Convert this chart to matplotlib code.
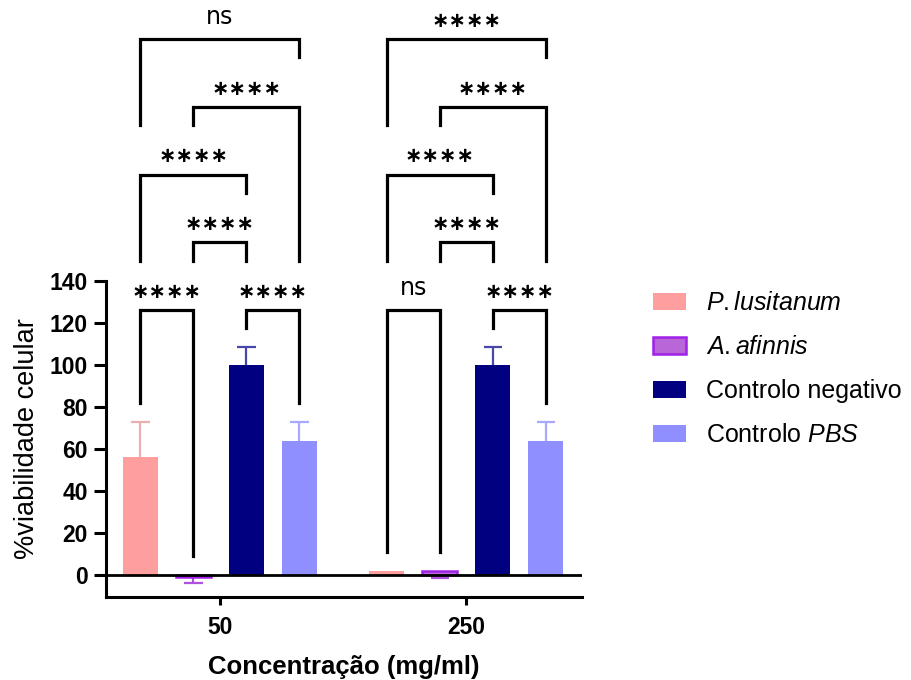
import matplotlib
matplotlib.use("Agg")
import matplotlib.pyplot as plt
import numpy as np

plt.rcParams["font.family"] = ["Liberation Sans", "DejaVu Sans"]
plt.rcParams["mathtext.fontset"] = "custom"
plt.rcParams["mathtext.rm"] = "Liberation Sans"
plt.rcParams["mathtext.it"] = "Liberation Sans:italic"

# ---- data -------------------------------------------------------------
concentrations = ["50", "250"]
series_labels = [r"$\mathit{P.lusitanum}$", r"$\mathit{A.afinnis}$",
                 "Controlo negativo", r"Controlo $\mathit{PBS}$"]
viability_50 = [56, -1.2, 100, 64]
viability_250 = [2, 2, 100, 64]
sem_50 = [17, 2.5, 8.5, 9]
sem_250 = [0, 3.3, 8.5, 9]
# error bars drawn away from zero: +1 up, -1 down
err_direction = [1, -1, 1, 1]

# pairwise comparisons per concentration: (bar a, bar b, label, level)
comparisons_50 = [(0, 1, "****", 1), (2, 3, "****", 1), (1, 2, "****", 2),
                  (0, 2, "****", 3), (1, 3, "****", 4), (0, 3, "ns", 5)]
comparisons_250 = [(0, 1, "ns", 1), (2, 3, "****", 1), (1, 2, "****", 2),
                   (0, 2, "****", 3), (1, 3, "****", 4), (0, 3, "****", 5)]

# ---- styling ----------------------------------------------------------
face_colors = ["#ff9e9e", "#b866d8", "#000080", "#8f8fff"]
edge_colors = ["#ff9e9e", "#a020e8", "#000080", "#8f8fff"]
edge_widths = [0, 1.8, 0, 0]
err_colors = ["#e8b0b0", "#b050e0", "#4848a8", "#a8a8ff"]

values = np.array([viability_50, viability_250])
errors = np.array([sem_50, sem_250])
comparisons = [comparisons_50, comparisons_250]

fig = plt.figure(figsize=(9.12, 6.8), dpi=100)
ax = fig.add_axes([0.1162, 0.1221, 0.5219, 0.4647])

group_x = np.arange(len(concentrations))
step = 0.215
width = 0.142
cap_half = 0.037
offsets = (np.arange(4) - 1.5) * step

handles = []
for s in range(4):
    xs = group_x + offsets[s]
    ys = values[:, s]
    e = errors[:, s]
    ends = ys + err_direction[s] * e
    # one-sided error bars (stem + cap) drawn beneath the bars
    show = e > 0
    ax.vlines(xs[show], ys[show], ends[show], colors=err_colors[s],
              linewidth=1.6, zorder=2)
    ax.hlines(ends[show], xs[show] - cap_half, xs[show] + cap_half,
              colors=err_colors[s], linewidth=1.6, zorder=2)
    b = ax.bar(xs, ys, width=width, color=face_colors[s],
               edgecolor=edge_colors[s], linewidth=edge_widths[s], zorder=3)
    handles.append(b)

ax.axhline(0, color="black", linewidth=2.0, zorder=4)

ax.set_xlim(-0.4625, 1.4686)
ax.set_ylim(-10.5, 140)
ax.set_yticks(np.arange(0, 141, 20))
ax.set_xticks(group_x)
ax.set_xticklabels(concentrations)
for sp in ["top", "right"]:
    ax.spines[sp].set_visible(False)
for sp in ["left", "bottom"]:
    ax.spines[sp].set_linewidth(2.2)
ax.tick_params(axis="y", length=9, width=2.2, pad=4, labelsize=16.5)
ax.tick_params(axis="x", length=6, width=2.2, pad=8, labelsize=16.5)
for lab in ax.get_xticklabels() + ax.get_yticklabels():
    lab.set_fontweight("bold")

ax.set_xlabel("Concentração (mg/ml)", fontsize=18.5, fontweight="bold",
              labelpad=11)
ax.set_ylabel("%viabilidade celular", fontsize=19.5, labelpad=7)

# ---- significance brackets --------------------------------------------
level_base = 126.2
level_step = 32.25
leg_gap = 9
for g, comps in enumerate(comparisons):
    tops = [max(values[g, s] + max(err_direction[s], 0) * errors[g, s], 0)
            for s in range(4)]
    for a, b, label, lvl in comps:
        y_line = level_base + level_step * (lvl - 1)
        bottoms = []
        for idx in (a, b):
            below = [l2 for a2, b2, _, l2 in comps
                     if l2 < lvl and a2 <= idx <= b2]
            if below:
                bottoms.append(level_base + level_step * (max(below) - 1) + 23.5)
            else:
                bottoms.append(tops[idx] + leg_gap)
        xa = group_x[g] + offsets[a]
        xb = group_x[g] + offsets[b]
        ax.plot([xa, xa, xb, xb], [bottoms[0], y_line, y_line, bottoms[1]],
                color="black", linewidth=2.3, solid_joinstyle="miter",
                clip_on=False, zorder=5)
        xm = (xa + xb) / 2
        if label == "ns":
            ax.text(xm, y_line + 7, "ns", ha="center", va="baseline",
                    fontsize=17, family="DejaVu Sans", clip_on=False)
        else:
            ax.text(xm, y_line + 8.6, "\u2217" * len(label), ha="center",
                    va="center", fontsize=15, family="DejaVu Sans",
                    fontweight="bold", clip_on=False)

leg = ax.legend(handles, series_labels, loc="center left",
                bbox_to_anchor=(0.716, 0.457), bbox_transform=fig.transFigure,
                frameon=False, fontsize=18, handlelength=1.32,
                handleheight=0.68, handletextpad=0.8, labelspacing=0.8,
                borderpad=0, borderaxespad=0)

fig.savefig("out.png", dpi=100)
